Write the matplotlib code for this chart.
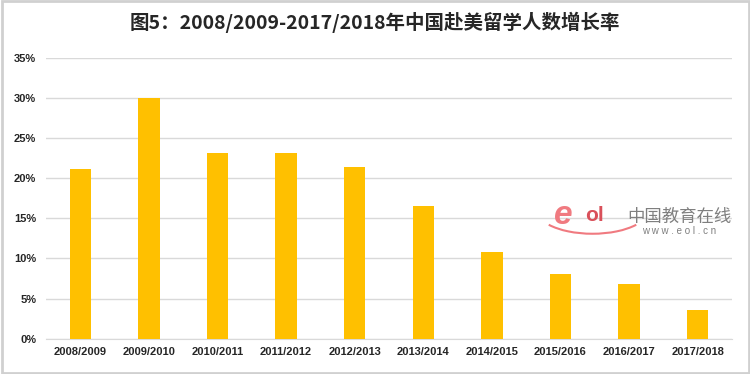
import matplotlib.pyplot as plt
from matplotlib.patches import Rectangle, Arc
import numpy as np

plt.rcParams['font.family'] = ['Liberation Sans', 'Noto Sans CJK SC', 'DejaVu Sans']

years = ["2008/2009", "2009/2010", "2010/2011", "2011/2012", "2012/2013",
         "2013/2014", "2014/2015", "2015/2016", "2016/2017", "2017/2018"]
growth = [21.1, 30.0, 23.2, 23.1, 21.4, 16.5, 10.8, 8.1, 6.8, 3.6]
yticks = [0, 5, 10, 15, 20, 25, 30, 35]
ytick_labels = ["0%", "5%", "10%", "15%", "20%", "25%", "30%", "35%"]
title = "图5：2008/2009-2017/2018年中国赴美留学人数增长率"

fig = plt.figure(figsize=(7.5, 3.74), dpi=100)
ax = fig.add_axes([0.0613, 0.0944, 0.9147, 0.7506])

x = np.arange(len(years))
ax.bar(x, growth, width=0.31, color='#FFC000', zorder=3)

ax.set_xlim(-0.5, len(years) - 0.5)
ax.set_ylim(0, 35)
ax.set_yticks(yticks)
ax.set_yticklabels(ytick_labels)
ax.set_xticks(x)
ax.set_xticklabels(years)
ax.tick_params(length=0, labelsize=8, colors='#262626', pad=6)
ax.tick_params(axis='y', pad=7)
for lab in ax.get_xticklabels() + ax.get_yticklabels():
    lab.set_fontweight('bold')

ax.grid(axis='y', color='#d9d9d9', linewidth=1, zorder=0)
for s in ['top', 'right', 'left']:
    ax.spines[s].set_visible(False)
ax.spines['bottom'].set_color('#d9d9d9')

fig.text(0.5, 0.94, title, ha='center', va='center', fontsize=14,
         fontweight='bold', color='#262626',
         family=['Noto Sans CJK SC', 'DejaVu Sans'])

# eol watermark
fig.text(0.751, 0.425, "e", fontsize=24, color='#f07a80', style='italic',
         fontweight='bold', ha='center', va='center')
fig.text(0.793, 0.425, "ol", fontsize=15, color='#d9505a', fontweight='bold',
         ha='center', va='center')
fig.text(0.906, 0.42, "中国教育在线", fontsize=12.5, color='#7f7f7f',
         ha='center', va='center', family=['Noto Sans CJK SC'])
fig.text(0.906, 0.382, "w w w . e o l . c n", fontsize=7, color='#7f7f7f',
         ha='center', va='center')
fig.add_artist(Arc((0.79, 0.44), 0.15, 0.13, theta1=215, theta2=325,
                   transform=fig.transFigure, color='#f07a80', linewidth=1.5))

fig.add_artist(Rectangle((0.002, 0.003), 0.996, 0.994, transform=fig.transFigure,
                         fill=False, edgecolor='#d0d0d0', linewidth=2))

fig.savefig('out.png', dpi=100)
